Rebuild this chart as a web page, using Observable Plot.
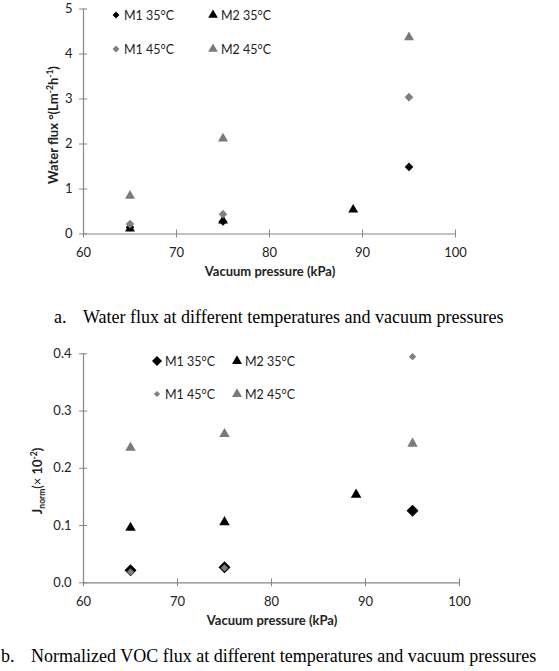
<!DOCTYPE html>
<html><head><meta charset="utf-8">
<script src="https://cdn.jsdelivr.net/npm/d3@7"></script>
<script src="https://cdn.jsdelivr.net/npm/@observablehq/plot@0.6"></script>
<style>
body{margin:0;background:#fff;}
#wrap{position:relative;width:559px;height:671px;overflow:hidden;font-family:Lato,"DejaVu Sans",sans-serif;color:#222;}
.abs{position:absolute;white-space:nowrap;}
.leg{position:absolute;display:flex;align-items:center;font-size:12.5px;transform:translateY(-50%);white-space:nowrap;}
.leg svg{display:block;margin-right:2px;}
.ylab{position:absolute;white-space:nowrap;font-weight:bold;font-size:13px;transform:translate(-50%,-50%) rotate(-90deg);}
.xlab{position:absolute;white-space:nowrap;font-weight:bold;font-size:13px;transform:translate(-50%,-50%);}
.cap{position:absolute;white-space:nowrap;font-family:"Liberation Serif","Times New Roman",serif;font-size:18px;color:#000;transform:translateY(-50%);}
</style></head><body><div id="wrap"></div>
<script>
// ---- data ----
const seriesNames = ["M1 35°C", "M2 35°C", "M1 45°C", "M2 45°C"];
const xTicks = [60, 70, 80, 90, 100];
const pressureM1_35 = [65, 75, 95];
const pressureM2_35 = [65, 75, 89];
const pressureM1_45 = [65, 75, 95];
const pressureM2_45 = [65, 75, 95];

// (a) water flux
const waterM1_35 = [0.15, 0.28, 1.49];
const waterM2_35 = [0.12, 0.30, 0.54];
const waterM1_45 = [0.22, 0.44, 3.04];
const waterM2_45 = [0.85, 2.12, 4.37];
const yTicksA = [0, 1, 2, 3, 4, 5];

// (b) normalized VOC flux
const vocM1_35 = [0.022, 0.027, 0.126];
const vocM2_35 = [0.096, 0.106, 0.154];
const vocM1_45 = [0.019, 0.026, 0.395];
const vocM2_45 = [0.236, 0.260, 0.243];
const yTicksB = [0, 0.1, 0.2, 0.3, 0.4];

const pressures = [pressureM1_35, pressureM2_35, pressureM1_45, pressureM2_45];
function rowsOf(values) {
  const rows = [];
  values.forEach((vals, i) => vals.forEach((v, j) => rows.push({series: seriesNames[i], p: pressures[i][j], v})));
  return rows;
}
const rowsA = rowsOf([waterM1_35, waterM2_35, waterM1_45, waterM2_45]);
const rowsB = rowsOf([vocM1_35, vocM2_35, vocM1_45, vocM2_45]);

// ---- styles ----
const symbols = ["diamond2", "triangle", "diamond2", "triangle"];
const fills = ["#000000", "#000000", "#7f7f7f", "#7a7a7a"];
const radiiA = [3.9, 3.7, 3.9, 3.7];
const radiiB = [5.4, 3.9, 3.3, 3.9];
const legRA = [3.1, 3.6, 3.1, 3.6];
const legRB = [4.5, 3.7, 2.8, 3.7];
const axisGray = "#868686";

const wrap = document.getElementById("wrap");

function chart({rows, yDomain, yTicks, yFormat, height, marginTop, marginBottom, marginRight, radii, tickPadY}) {
  return Plot.plot({
    width: 559, height, marginLeft: 83, marginRight, marginTop, marginBottom,
    style: {fontFamily: "Lato, sans-serif", fontSize: "13px", background: "#fff", overflow: "visible"},
    x: {domain: [60, 100]},
    y: {domain: yDomain},
    marks: [
      Plot.ruleX([60], {stroke: axisGray, strokeWidth: 1.2}),
      Plot.ruleY([0], {stroke: axisGray, strokeWidth: 1.2}),
      Plot.axisX(xTicks, {tickSize: 8, dy: -4, tickPadding: 10, stroke: axisGray, fill: "#222", label: null, tickFormat: d3.format("d")}),
      Plot.axisY(yTicks, {tickSize: 8, dx: 4, tickPadding: tickPadY, stroke: axisGray, fill: "#222", label: null, tickFormat: d3.format(yFormat)}),
      ...seriesNames.map((s, i) => Plot.dot(rows.filter(d => d.series === s), {
        x: "p", y: "v", symbol: symbols[i], fill: fills[i], stroke: "none", r: radii[i]
      }))
    ]
  });
}

function place(el, top) {
  el.style.position = "absolute"; el.style.left = "0px"; el.style.top = top + "px";
  wrap.appendChild(el);
}

function marker(i, r) {
  const s = 16;
  const sym = symbols[i] === "diamond2" ? d3.symbolDiamond2 : d3.symbolTriangle;
  const path = d3.symbol(sym, Math.PI * r * r)();
  return `<svg width="${s}" height="${s}" viewBox="${-s/2} ${-s/2} ${s} ${s}"><path d="${path}" fill="${fills[i]}"/></svg>`;
}

function legend(positions, radii) {
  positions.forEach(([x, y], i) => {
    const d = document.createElement("div");
    d.className = "leg";
    d.style.left = (x - 8) + "px";
    d.style.top = y + "px";
    d.innerHTML = marker(i, radii[i]) + `<span style="margin-left:-2px">${seriesNames[i]}</span>`;
    wrap.appendChild(d);
  });
}

function addDiv(cls, html, left, top) {
  const d = document.createElement("div");
  d.className = cls; d.innerHTML = html;
  d.style.left = left + "px"; d.style.top = top + "px";
  wrap.appendChild(d);
}

// chart a
place(chart({rows: rowsA, yDomain: [0, 5], yTicks: yTicksA, yFormat: "d", height: 280, marginTop: 8.5, marginBottom: 46.5, marginRight: 104, radii: radiiA, tickPadY: 7}), 0);
legend([[116, 15], [213, 15], [116, 49], [213, 49]], legRA);
addDiv("ylab", "Water flux °(Lm<sup style='font-size:8.5px'>-2</sup>h<sup style='font-size:8.5px'>-1</sup>)", 53, 125);
addDiv("xlab", "Vacuum pressure (kPa)", 270, 271);
addDiv("cap", "a.", 54, 317);
addDiv("cap", "Water flux at different temperatures and vacuum pressures", 83, 317);

// chart b
place(chart({rows: rowsB, yDomain: [0, 0.4], yTicks: yTicksB, yFormat: ".1f", height: 290, marginTop: 13.3, marginBottom: 47.7, marginRight: 100, radii: radiiB, tickPadY: 8}), 340);
legend([[157, 361], [237, 361], [157, 394], [237, 394]], legRB);
addDiv("ylab", "J<sub style='font-size:8.5px'>norm</sub><span style='font-weight:normal'>(×</span> 10<sup style='font-size:8.5px'>-2</sup>)", 38, 481);
addDiv("xlab", "Vacuum pressure (kPa)", 272, 620);
addDiv("cap", "b.", 1, 656);
addDiv("cap", "Normalized VOC flux at different temperatures and vacuum pressures", 31, 656);
</script></body></html>
